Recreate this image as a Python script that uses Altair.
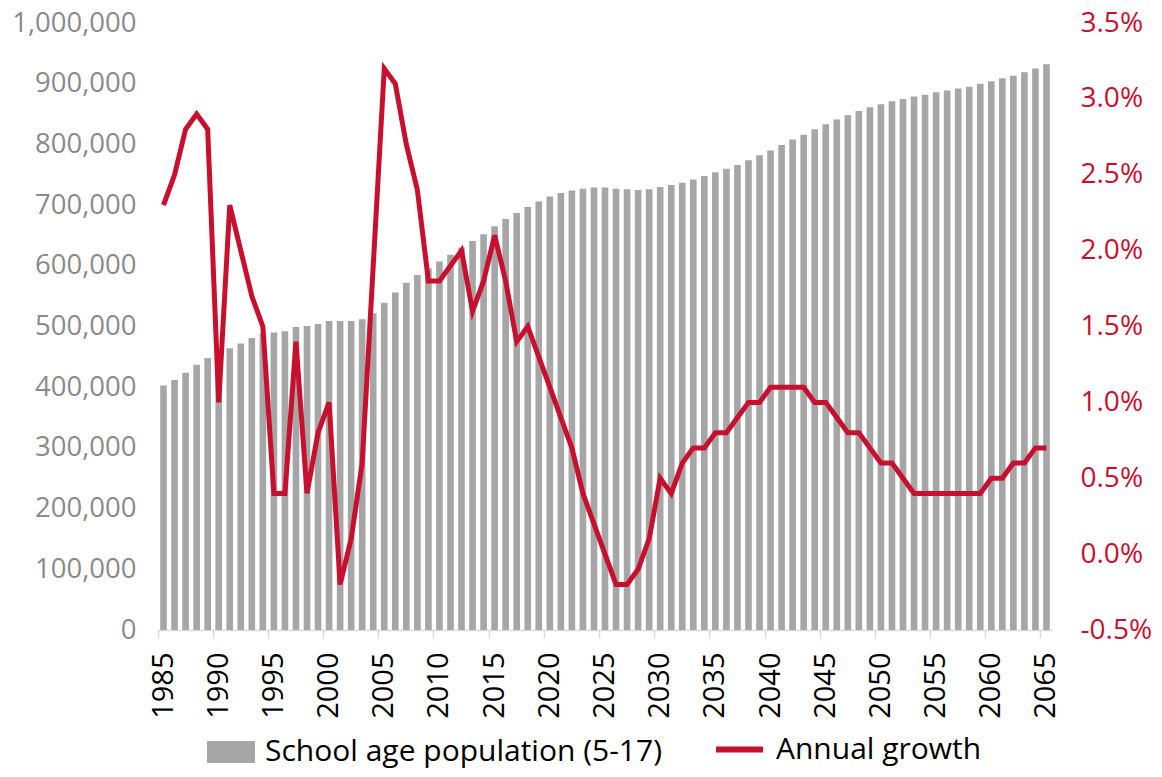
import altair as alt
import pandas as pd

years = list(range(1985, 2066))

population = [
    403000, 412000, 424000, 437000, 448000, 456000, 464000, 472000, 481000, 488000,
    490000, 492000, 499000, 501000, 504000, 509000, 509000, 509000, 512000, 522000,
    539000, 556000, 572000, 585000, 596000, 607000, 618000, 630000, 641000, 652000,
    665000, 677000, 687000, 697000, 706000, 714000, 720000, 724000, 727000, 729000,
    729000, 727000, 726000, 725000, 726000, 730000, 733000, 737000, 742000, 748000,
    754000, 760000, 766000, 774000, 782000, 790000, 799000, 808000, 816000, 825000,
    833000, 841000, 848000, 855000, 861000, 866000, 871000, 875000, 879000, 882000,
    886000, 889000, 892000, 895000, 900000, 904000, 909000, 913000, 919000, 925000,
    932000,
]

growth = [
    2.3, 2.5, 2.8, 2.9, 2.8, 1.0, 2.3, 2.0, 1.7, 1.5,
    0.4, 0.4, 1.4, 0.4, 0.8, 1.0, -0.2, 0.1, 0.6, 1.9,
    3.2, 3.1, 2.7, 2.4, 1.8, 1.8, 1.9, 2.0, 1.6, 1.8,
    2.1, 1.8, 1.4, 1.5, 1.3, 1.1, 0.9, 0.7, 0.4, 0.2,
    0.0, -0.2, -0.2, -0.1, 0.1, 0.5, 0.4, 0.6, 0.7, 0.7,
    0.8, 0.8, 0.9, 1.0, 1.0, 1.1, 1.1, 1.1, 1.1, 1.0,
    1.0, 0.9, 0.8, 0.8, 0.7, 0.6, 0.6, 0.5, 0.4, 0.4,
    0.4, 0.4, 0.4, 0.4, 0.4, 0.5, 0.5, 0.6, 0.6, 0.7,
    0.7,
]

tick_years = list(range(1985, 2066, 5))
left_ticks = list(range(0, 1000001, 100000))
right_ticks = [-0.5, 0.0, 0.5, 1.0, 1.5, 2.0, 2.5, 3.0, 3.5]

bar_name = "School age population (5-17)"
line_name = "Annual growth"

df = pd.DataFrame({
    "year": years,
    "population": population,
    "growth": growth,
    "s1": bar_name,
    "s2": line_name,
})

FONT = "Open Sans"
GREY = "#a6a6a6"
RED = "#c8102e"

x_axis = alt.Axis(
    values=tick_years, bandPosition=0, labelAngle=-90, labelFontSize=29,
    labelFont=FONT, labelColor="black", domainColor="#d9d9d9", domainWidth=1.5,
    tickColor="#d9d9d9", tickWidth=1.5, tickSize=8, labelPadding=14,
    title=None, grid=False,
)
x_enc = alt.X("year:O", scale=alt.Scale(paddingInner=0, paddingOuter=0), axis=x_axis)

bars = alt.Chart(df).mark_bar(width=alt.RelativeBandSize(0.6)).encode(
    x=x_enc,
    y=alt.Y(
        "population:Q",
        scale=alt.Scale(domain=[0, 1000000], nice=False),
        axis=alt.Axis(
            values=left_ticks, format=",d", labelFontSize=27.5, labelFont=FONT,
            labelColor="#8a8a8a", domain=False, ticks=False, grid=False,
            labelPadding=22, title=None,
        ),
    ),
    fill=alt.Fill(
        "s1:N",
        scale=alt.Scale(domain=[bar_name], range=[GREY]),
        legend=alt.Legend(
            title=None, orient="none", legendX=49, legendY=705, padding=0,
            symbolType="M-1,-0.46H1V0.46H-1Z", symbolSize=2304,
            symbolStrokeWidth=0, labelFontSize=30, labelFont=FONT,
            labelColor="black", labelOffset=10, labelLimit=700,
        ),
    ),
)

line = alt.Chart(df).mark_line(strokeWidth=5).encode(
    x=x_enc,
    y=alt.Y(
        "growth:Q",
        scale=alt.Scale(domain=[-0.5, 3.5], nice=False),
        axis=alt.Axis(
            orient="right", values=right_ticks,
            labelExpr="(datum.value < 0 ? '-' : '') + format(abs(datum.value), '.1f') + '%'",
            labelFontSize=28, labelFont=FONT, labelColor=RED, domain=False,
            ticks=False, grid=False, labelPadding=28, title=None,
        ),
    ),
    stroke=alt.Stroke(
        "s2:N",
        scale=alt.Scale(domain=[line_name], range=[RED]),
        legend=alt.Legend(
            title=None, orient="none", legendX=555, legendY=700, padding=0,
            symbolType="stroke", symbolSize=2209, symbolStrokeWidth=6,
            labelFontSize=30, labelFont=FONT, labelColor="black", labelOffset=10,
            labelLimit=700,
        ),
    ),
)

chart = alt.layer(bars, line).resolve_scale(
    y="independent", fill="independent", stroke="independent"
).properties(
    width=894, height=607,
    autosize=alt.AutoSizeParams(type="none"),
    padding={"left": 150, "top": 15, "right": 102, "bottom": 138},
).configure_view(stroke=None)

chart.save("out.html", embed_options={"renderer": "svg", "actions": False})
